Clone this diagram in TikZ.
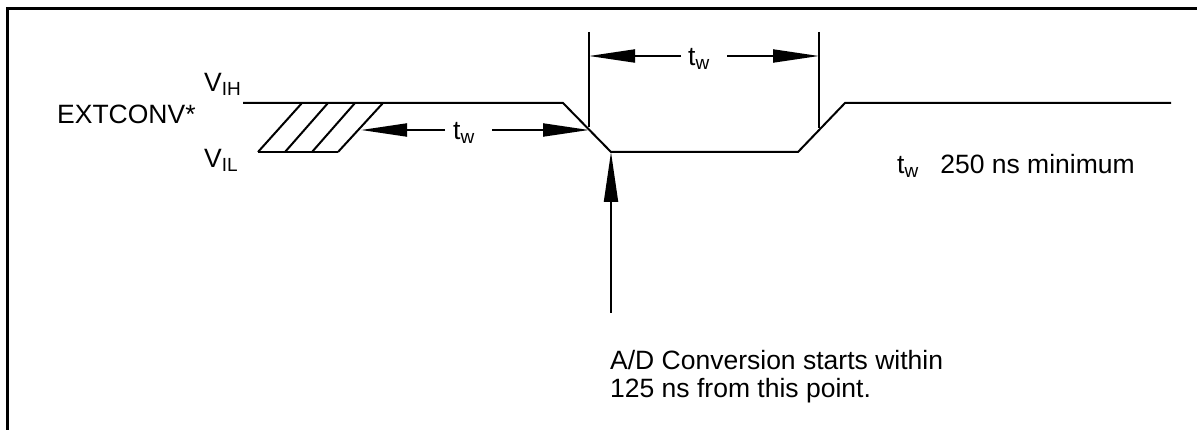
\documentclass[tikz,border=0pt]{standalone}
\usepackage{fontspec}
\setmainfont{Liberation Sans}
\usetikzlibrary{arrows.meta}
\newcommand\lowsub[1]{\raisebox{-4pt}{\fontsize{19}{19}\selectfont #1}}
\begin{document}
\begin{tikzpicture}[x=1pt,y=-1pt,
  wave/.style={line width=2pt,line join=miter},
  marker/.style={line width=2pt},
  dimarrow/.style={line width=2pt,-{Triangle[length=46pt,width=13pt]}},
  uparrow/.style={line width=2pt,-{Triangle[length=50pt,width=14pt]}},
  lbl/.style={inner sep=0pt,anchor=base west,font=\fontsize{26.5}{28}\selectfont},
  frame/.style={line width=3pt}]
\useasboundingbox (0,0) rectangle (1197,430);
% frame
\draw[frame] (7.5,432) -- (7.5,8.5) -- (1199,8.5);
% waveform coordinates
\coordinate (hs) at (243,103);
\coordinate (fa) at (563,103);
\coordinate (fb) at (611,152);
\coordinate (ra) at (798,152);
\coordinate (rb) at (845,103);
\coordinate (he) at (1171,103);
\draw[wave] (hs) -- (fa) -- (fb) -- (ra) -- (rb) -- (he);
% hatched region
\coordinate (lb1) at (258,152);
\coordinate (lb4) at (338,152);
\draw[wave] (lb1) -- (lb4);
\foreach \b/\t in {258/302,285/328,312/355,338/383}
  \draw[wave] (\b,152) -- (\t,103);
% markers
\coordinate (m1t) at (589,32);
\coordinate (m1b) at (589,127);
\coordinate (m2t) at (819,32);
\coordinate (m2b) at (819,128);
\draw[marker] (m1t) -- (m1b);
\draw[marker] (m2t) -- (m2b);
% top dimension
\node[lbl] (tw1) at (688,66) {t\lowsub{w}};
\coordinate (d1l) at (589,56);
\coordinate (d1r) at (819,56);
\draw[dimarrow] (681,56) -- (d1l);
\draw[dimarrow] (727,56) -- (d1r);
% lower dimension
\node[lbl] (tw2) at (453,140) {t\lowsub{w}};
\coordinate (d2l) at (361,130);
\coordinate (d2r) at (589,130);
\draw[dimarrow] (445,130) -- (d2l);
\draw[dimarrow] (492,130) -- (d2r);
% up arrow
\coordinate (ua) at (611,313);
\draw[uparrow] (ua) -- (fb);
% labels
\node[lbl] (vih) at (204,92) {V\lowsub{IH}};
\node[lbl] (ext) at (57,124) {EXTCONV*};
\node[lbl] (vil) at (204,168) {V\lowsub{IL}};
\node[lbl] (twn) at (897,174) {t\lowsub{w}\hspace{22pt}250 ns minimum};
\node[lbl] (ad1) at (610,370) {A/D Conversion starts within};
\node[lbl] (ad2) at (610,397) {125 ns from this point.};
\end{tikzpicture}
\end{document}
